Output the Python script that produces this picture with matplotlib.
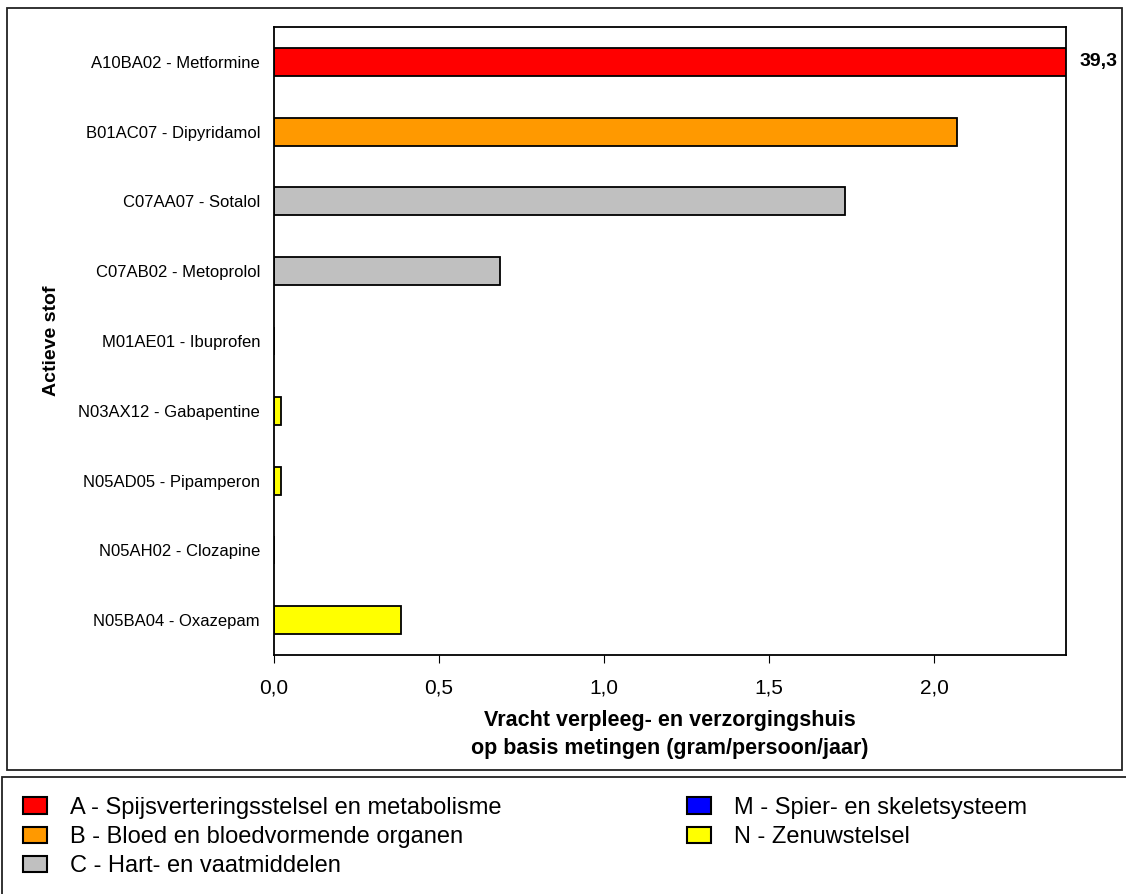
import matplotlib
matplotlib.use("Agg")
import matplotlib.pyplot as plt
from matplotlib.patches import Rectangle, Patch
from matplotlib.ticker import FuncFormatter
import matplotlib.transforms as mtransforms

plt.rcParams['font.family'] = ['Liberation Sans', 'DejaVu Sans']

# ---- data ----
categories = [
    "A10BA02 - Metformine",
    "B01AC07 - Dipyridamol",
    "C07AA07 - Sotalol",
    "C07AB02 - Metoprolol",
    "M01AE01 - Ibuprofen",
    "N03AX12 - Gabapentine",
    "N05AD05 - Pipamperon",
    "N05AH02 - Clozapine",
    "N05BA04 - Oxazepam",
]
values = [39.3, 2.07, 1.73, 0.685, 0.0, 0.02, 0.02, 0.0, 0.385]
groups = ["A", "B", "C", "C", "M", "N", "N", "N", "N"]
group_labels = {
    "A": "A - Spijsverteringsstelsel en metabolisme",
    "B": "B - Bloed en bloedvormende organen",
    "C": "C - Hart- en vaatmiddelen",
    "M": "M - Spier- en skeletsysteem",
    "N": "N - Zenuwstelsel",
}
group_colors = {"A": "#FF0000", "B": "#FF9900", "C": "#C0C0C0", "M": "#0000FF", "N": "#FFFF00"}
xticks = [0.0, 0.5, 1.0, 1.5, 2.0]
xmax = 2.4
overflow_label = "39,3"

W, H = 1126, 894
fig = plt.figure(figsize=(W / 100, H / 100), dpi=100)


def fx(px):
    return px / W


def fy(py):
    return 1 - py / H


# outer boxes
fig.patches.append(Rectangle((fx(7), fy(770)), fx(1122) - fx(7), fy(8) - fy(770),
                             transform=fig.transFigure, fill=False, edgecolor="#222222", lw=1.3))
fig.patches.append(Rectangle((fx(2), fy(900)), fx(1140) - fx(2), fy(777) - fy(900),
                             transform=fig.transFigure, fill=False, edgecolor="#222222", lw=1.3,
                             clip_on=False))

ax = fig.add_axes([fx(274), fy(655), fx(1066) - fx(274), fy(27) - fy(655)])

ypos = list(range(len(categories)))
colors = [group_colors[g] for g in groups]
ax.barh(ypos, values, height=0.4, color=colors, edgecolor="black", linewidth=1.3)
ax.set_ylim(len(categories) - 0.5, -0.5)
ax.set_xlim(0, xmax)
ax.set_yticks(ypos)
ax.set_yticklabels(categories, fontsize=12)
ax.tick_params(axis="y", length=0, pad=10)
ax.set_xticks(xticks)
ax.xaxis.set_major_formatter(FuncFormatter(lambda v, p: f"{v:.1f}".replace(".", ",")))
ax.tick_params(axis="x", labelsize=15, length=6, direction="out", pad=11)
for s in ax.spines.values():
    s.set_linewidth(1.3)

ax.set_xlabel("Vracht verpleeg- en verzorgingshuis\nop basis metingen (gram/persoon/jaar)",
              fontsize=15.5, fontweight="bold", labelpad=9, linespacing=1.45)
ax.set_ylabel("Actieve stof", fontsize=14, fontweight="bold")
ax.yaxis.set_label_coords((60 - 274) / (1066 - 274), 0.5)

trans = mtransforms.blended_transform_factory(ax.transAxes, ax.transData)
ax.text(1.0, 0, overflow_label,
        transform=trans + mtransforms.ScaledTranslation(14 / 100, 0, fig.dpi_scale_trans),
        ha="left", va="center", fontsize=14, fontweight="bold")


# legends
def handles(keys):
    return [Patch(facecolor=group_colors[k], edgecolor="black", linewidth=1.5, label=group_labels[k])
            for k in keys]


common = dict(frameon=False, fontsize=17, handlelength=1.0, handleheight=0.7,
              handletextpad=1.0, labelspacing=0.3, borderpad=0, borderaxespad=0,
              loc="upper left")
fig.legend(handles=handles(["A", "B", "C"]), bbox_to_anchor=(fx(23), fy(797)), **common)
fig.legend(handles=handles(["M", "N"]), bbox_to_anchor=(fx(687), fy(797)), **common)

fig.savefig("out.png", dpi=100)
